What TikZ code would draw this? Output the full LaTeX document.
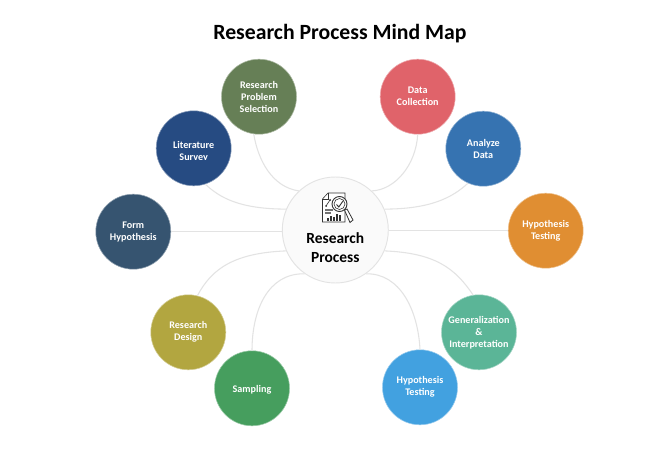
\documentclass[tikz,border=0pt]{standalone}
\usepackage{fontspec}
\setmainfont{Carlito}
\definecolor{cone}{HTML}{E3E3E3}
\begin{document}
\begin{tikzpicture}[x=0.75pt,y=-0.75pt,
  topic/.style={circle,minimum size=56.25pt,inner sep=0pt,draw=#1!55!white,line width=0.4pt,fill=#1,text=white,font=\bfseries\fontsize{7.6}{9}\selectfont,align=center,execute at begin node={\rule{0pt}{8pt}}},
  hub/.style={circle,minimum size=79.5pt,inner sep=0pt,draw=cone,line width=0.7pt,fill=black!2},
  link/.style={draw=cone,line width=0.8pt},
  ico/.style={draw=black!80,line width=0.45pt}]
\definecolor{cRP}{HTML}{667F56}\definecolor{cLit}{HTML}{264B82}\definecolor{cForm}{HTML}{365470}
\definecolor{cData}{HTML}{E0636A}\definecolor{cAna}{HTML}{3673B1}\definecolor{cOr}{HTML}{E08E32}
\definecolor{cDes}{HTML}{B2A640}\definecolor{cSam}{HTML}{469E5E}\definecolor{cGen}{HTML}{5BB597}\definecolor{cBlu}{HTML}{42A1E0}
\useasboundingbox[fill=white] (0,0) rectangle (664,452);
\node[font=\bfseries\fontsize{16.3}{18}\selectfont,text=black] (title) at (340,33.5) {Research Process Mind Map};
% nodes
\node[hub] (c) at (335.3,230) {};
\node[topic=cRP] (rp) at (259,96.7) {Research\\Problem\\Selection};
\node[topic=cLit] (lit) at (193.7,148.3) {};
\node[topic=cForm] (form) at (133.3,231.7) {Form\\Hypothesis};
\node[topic=cData] (data) at (417.7,96.7) {Data\\Collection};
\node[topic=cAna] (ana) at (483.3,148.7) {Analyze\\Data};
\node[topic=cOr] (or) at (545.7,230.7) {Hypothesis\\Testing};
\node[topic=cDes] (des) at (188.3,332.3) {Research\\Design};
\node[topic=cSam] (sam) at (252,388.3) {Sampling};
\node[topic=cGen] (gen) at (479,332.3) {Generalization\\\&\\Interpretation};
\node[topic=cBlu] (blu) at (420,387.3) {Hypothesis\\Testing};
\begin{scope}
\clip (150,120) rectangle (240,159.5);
\node[text=white,font=\bfseries\fontsize{7.6}{9}\selectfont,align=center] (littext) at (193.7,151.5) {Literature\\Survey};
\end{scope}
\node[font=\bfseries\fontsize{11.6}{14.2}\selectfont,align=center,text=black] (ctext) at (335.3,247.5) {Research\\Process};
% connectors
\draw[link] (rp.262) .. controls (258,160) and (272,187) .. (c.133);
\draw[link] (lit.288) .. controls (220,198) and (240,209) .. (c.157);
\draw[link] (form.east) -- (c.west |- form.east);
\draw[link] (data.270) .. controls (416,165) and (395,190) .. (c.47);
\draw[link] (ana.246) .. controls (452,198) and (430,209) .. (c.23);
\draw[link] (or.west) -- (c.east |- or.west);
\draw[link] (des.76) .. controls (212,268) and (235,253) .. (c.203);
\draw[link] (sam.90) .. controls (252,310) and (268,273) .. (c.235);
\draw[link] (gen.99) .. controls (455,268) and (435,253) .. (c.337);
\draw[link] (blu.90) .. controls (418,310) and (400,273) .. (c.305);
% icon
\draw[ico,fill=white] (328,193) -- (345,193) -- (345,222) -- (322.5,222) -- (322.5,199) -- cycle;
\draw[ico] (328,193) -- (328,199) -- (322.5,199);
\fill[black!55] (325,209) rectangle (333,211);
\fill[black!55] (325,212.5) rectangle (331,214);
\draw[ico] (326,206) -- (330,200);
\fill[black!80] (326,206) circle (1) (330,200) circle (1);
\foreach \xa/\ya in {327/218,330/216,333/217,336/214,339/215}{\fill[black!80] (\xa,221.5) rectangle (\xa+2,\ya);}
\draw[ico,line width=0.7pt,fill=white] (339.5,204) circle (7.5);
\draw[ico] (339.5,204) circle (5.5);
\draw[ico,line width=0.7pt] (336.5,204.5) -- (338.8,207) -- (343,201);
\draw[ico,line width=0.6pt,fill=white] (344.5,210) -- (347,209) -- (353,220) -- (350,222.5) -- cycle;
\end{tikzpicture}
\end{document}
